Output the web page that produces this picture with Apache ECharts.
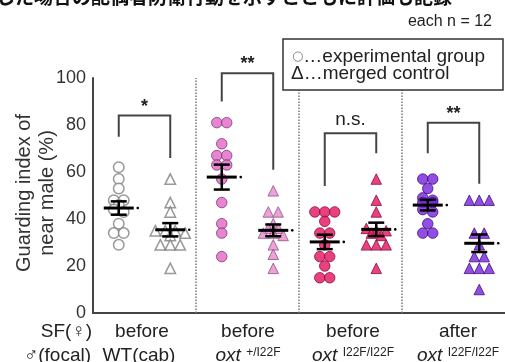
<!DOCTYPE html>
<html>
<head>
<meta charset="utf-8">
<script src="https://cdn.jsdelivr.net/npm/echarts@6/dist/echarts.min.js"></script>
<style>
  html, body { margin: 0; padding: 0; background: #fff; }
  #chart { width: 505px; height: 362px; }
</style>
</head>
<body>
<div id="chart"></div>
<script>
// 読み取り値 (Guarding index, %)  each n = 12
var exp1 = [62, 57, 53, 48, 48, 46, 44, 43, 38, 34, 34, 29];
var ctl1 = [57, 47, 43, 35, 35, 35, 34, 33, 29, 29, 29, 19];
var exp2 = [81, 81, 72, 67, 67, 63, 63, 57, 47, 38, 34, 24];
var ctl2 = [52, 43, 43, 38, 36, 36, 34, 34, 33, 29, 25, 19];
var exp3 = [43, 43, 43, 39, 34, 34, 29, 24, 24, 20, 15, 15];
var ctl3 = [57, 48, 43, 36, 35, 35, 34, 33, 29, 29, 29, 19];
var exp4 = [57, 57, 53, 49, 48, 47, 47, 44, 43, 38, 34, 34];
var ctl4 = [48, 48, 48, 34, 34, 29, 24, 24, 19, 19, 19, 10];

var sfLabels = ['before', 'before', 'before', 'after'];
var focalLabels = ['WT(cab)', 'oxt', 'oxt', 'oxt'];
var focalSup = ['', '+/I22F', 'I22F/I22F', 'I22F/I22F'];

// 有意差の括弧
var sigLabels = ['*', '**', 'n.s.', '**'];
var bracketTop = [84, 102, 76.5, 81];
var bracketLeftEnd = [75, 90, 54, 68];
var bracketRightEnd = [66, 61, 68, 55];

var yTicks = [0, 20, 40, 60, 80, 100];

var expAll = [exp1, exp2, exp3, exp4];
var ctlAll = [ctl1, ctl2, ctl3, ctl4];

var FONT = '"Liberation Sans", Arial, sans-serif';
var gridLeft = 93, gridTop = 78, gridW = 416, gridH = 235;
var xUnit = gridW / 8, step = 10;

// 同じ高さの点を横に並べる (beeswarm)
function swarm(values, center) {
  var sorted = values.slice().sort(function (a, b) { return b - a; });
  var rows = [], out = [];
  sorted.forEach(function (v) {
    var row = rows[rows.length - 1];
    if (row && row[0] - v <= 1.5) row.push(v); else rows.push([v]);
  });
  rows.forEach(function (row) {
    row.forEach(function (v, i) {
      out.push([center + (i - (row.length - 1) / 2) * step / xUnit, v]);
    });
  });
  return out;
}

function stats(values) {
  var n = values.length, m = 0, ss = 0;
  values.forEach(function (v) { m += v; });
  m = m / n;
  values.forEach(function (v) { ss += (v - m) * (v - m); });
  return [m, Math.sqrt(ss / (n - 1)) / Math.sqrt(n)];
}

var styles = [
  { exp: { color: '#fff', borderColor: '#808080', borderWidth: 1.5 }, ctl: { color: '#fff', borderColor: '#808080', borderWidth: 1.5 } },
  { exp: { color: '#e266c8', borderColor: '#7e3470', borderWidth: 1 }, ctl: { color: '#e58bd0', borderColor: '#935080', borderWidth: 1 } },
  { exp: { color: '#e4125f', borderColor: '#8a0e3c', borderWidth: 1 }, ctl: { color: '#e4125f', borderColor: '#8a0e3c', borderWidth: 1 } },
  { exp: { color: '#7720dc', borderColor: '#40107f', borderWidth: 1 }, ctl: { color: '#7720dc', borderColor: '#40107f', borderWidth: 1 } }
];

var series = [];
var meanData = [];
for (var g = 0; g < 4; g++) {
  series.push({
    type: 'scatter', symbol: 'circle', symbolSize: 10.5,
    itemStyle: styles[g].exp, data: swarm(expAll[g], 2 * g + 0.5), z: 2
  });
  series.push({
    type: 'scatter', symbol: 'triangle', symbolSize: 10.5,
    itemStyle: styles[g].ctl, data: swarm(ctlAll[g], 2 * g + 1.5), z: 2
  });
  var se = stats(expAll[g]), sc = stats(ctlAll[g]);
  meanData.push([2 * g + 0.5, se[0], se[1]]);
  meanData.push([2 * g + 1.5, sc[0], sc[1]]);
}

// 平均 ± SEM
series.push({
  type: 'custom', z: 5, silent: true,
  data: meanData,
  renderItem: function (params, api) {
    var x = api.value(0), m = api.value(1), s = api.value(2);
    var pm = api.coord([x, m]), pt = api.coord([x, m + s]), pb = api.coord([x, m - s]);
    return {
      type: 'group', children: [
        { type: 'line', shape: { x1: pm[0] - 15, y1: pm[1], x2: pm[0] + 15, y2: pm[1] }, style: { stroke: '#000', lineWidth: 3 } },
        { type: 'line', shape: { x1: pt[0], y1: pt[1], x2: pb[0], y2: pb[1] }, style: { stroke: '#000', lineWidth: 2.5 } },
        { type: 'line', shape: { x1: pt[0] - 8, y1: pt[1], x2: pt[0] + 8, y2: pt[1] }, style: { stroke: '#000', lineWidth: 2.5 } },
        { type: 'line', shape: { x1: pb[0] - 8, y1: pb[1], x2: pb[0] + 8, y2: pb[1] }, style: { stroke: '#000', lineWidth: 2.5 } },
        { type: 'circle', shape: { cx: pm[0] + 19, cy: pm[1], r: 1.3 }, style: { fill: '#000' } }
      ]
    };
  }
});

// 有意差の括弧
var bracketData = [];
for (var b = 0; b < 4; b++) {
  bracketData.push([b, bracketTop[b], bracketLeftEnd[b], bracketRightEnd[b]]);
}
series.push({
  type: 'custom', z: 4, silent: true, clip: false,
  data: bracketData,
  renderItem: function (params, api) {
    var i = api.value(0);
    var pl = api.coord([2 * i + 0.5, api.value(2)]);
    var tl = api.coord([2 * i + 0.5, api.value(1)]);
    var tr = api.coord([2 * i + 1.5, api.value(1)]);
    var pr = api.coord([2 * i + 1.5, api.value(3)]);
    var lab = sigLabels[i];
    return {
      type: 'group', children: [
        { type: 'polyline', shape: { points: [pl, tl, tr, pr] }, style: { stroke: '#444', lineWidth: 2, fill: null } },
        {
          type: 'text', x: (tl[0] + tr[0]) / 2, y: tl[1] - (lab === 'n.s.' ? 13 : 9),
          style: {
            text: lab, align: 'center', verticalAlign: 'middle',
            font: (lab === 'n.s.' ? '19px ' : 'bold 18px ') + FONT, fill: '#222'
          }
        }
      ]
    };
  }
});

// 点線の区切り
series.push({
  type: 'scatter', data: [], silent: true,
  markLine: {
    silent: true, symbol: ['none', 'none'], animation: false,
    label: { show: false },
    lineStyle: { color: '#777', width: 1.5, type: [1.5, 1.5] },
    data: [{ xAxis: 2 }, { xAxis: 4 }, { xAxis: 6 }]
  }
});

// 文字
var graphics = [
  {
    type: 'text', x: -4, y: -3,
    style: { text: 'した場合の配偶者防衛行動を示すとともに評価も記録', font: 'bold 19px "Noto Sans CJK JP"', fill: '#111', verticalAlign: 'middle' }
  },
  { type: 'text', x: 492, y: 22, style: { text: 'each n = 12', align: 'right', verticalAlign: 'middle', font: '16px ' + FONT, fill: '#222' } },
  { type: 'rect', shape: { x: 283, y: 39, width: 220, height: 51 }, style: { fill: '#fff', stroke: '#333', lineWidth: 1.5 }, z: 10 },
  {
    type: 'text', x: 292, y: 57, z: 11,
    style: {
      text: '{c|○}…experimental group', verticalAlign: 'middle', font: '19px ' + FONT, fill: '#222',
      rich: { c: { font: '13px "DejaVu Sans"', fill: '#777' } }
    }
  },
  { type: 'text', x: 291, y: 74, z: 11, style: { text: 'Δ…merged control', verticalAlign: 'middle', font: '19px ' + FONT, fill: '#222' } },
  {
    type: 'text', x: 36, y: 193, rotation: Math.PI / 2,
    style: { text: 'Guarding index of\nnear male (%)', align: 'center', verticalAlign: 'middle', font: '20px ' + FONT, lineHeight: 23, fill: '#333' }
  },
  { type: 'text', x: 92, y: 332, style: { text: 'SF(♀)', align: 'right', verticalAlign: 'middle', font: '19px ' + FONT, fill: '#222' } },
  { type: 'text', x: 91, y: 356, style: { text: '♂(focal)', align: 'right', verticalAlign: 'middle', font: '19px ' + FONT, fill: '#222' } }
];
var gcx = [142, 248, 353, 458];
for (var k = 0; k < 4; k++) {
  graphics.push({ type: 'text', x: gcx[k], y: 332, style: { text: sfLabels[k], align: 'center', verticalAlign: 'middle', font: '19px ' + FONT, fill: '#222' } });
  var t = focalSup[k] ? '{i|' + focalLabels[k] + '} {s|' + focalSup[k] + '}' : focalLabels[k];
  graphics.push({
    type: 'text', x: gcx[k] - (k === 0 ? 3 : 0), y: 356,
    style: {
      text: t, align: 'center', verticalAlign: 'middle', font: '19px ' + FONT, fill: '#222',
      rich: {
        i: { font: 'italic 19px ' + FONT, fill: '#222' },
        s: { font: '12px ' + FONT, fill: '#222', verticalAlign: 'top' }
      }
    }
  });
}

var chart = echarts.init(document.getElementById('chart'), null, { renderer: 'canvas' });
chart.setOption({
  animation: false,
  backgroundColor: '#fff',
  grid: { left: gridLeft, top: gridTop, width: gridW, height: gridH },
  xAxis: {
    type: 'value', min: 0, max: 8,
    axisLine: { show: true, onZero: false, lineStyle: { color: '#444', width: 2 } },
    axisTick: { show: false }, axisLabel: { show: false }, splitLine: { show: false }
  },
  yAxis: {
    type: 'value', min: yTicks[0], max: yTicks[yTicks.length - 1], interval: 20,
    axisLine: { show: true, lineStyle: { color: '#444', width: 2 } },
    axisTick: { show: false }, splitLine: { show: false },
    axisLabel: { fontSize: 18, fontFamily: FONT, color: '#333', margin: 7 }
  },
  series: series,
  graphic: graphics
});
</script>
</body>
</html>
